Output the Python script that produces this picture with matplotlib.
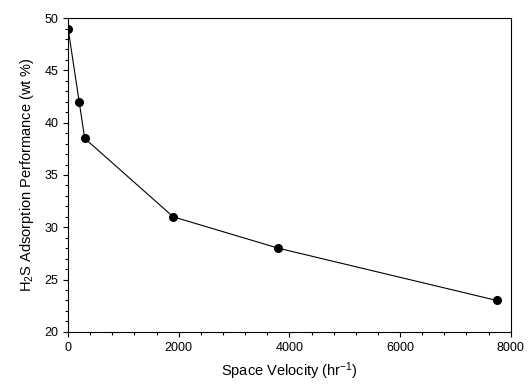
import matplotlib
matplotlib.use("Agg")
import matplotlib.pyplot as plt
from matplotlib.ticker import MultipleLocator

plt.rcParams['font.family'] = ['Liberation Sans', 'DejaVu Sans']
plt.rcParams['mathtext.default'] = 'regular'

space_velocity = [0, 200, 300, 1900, 3800, 7750]
h2s_performance = [49, 42, 38.5, 31, 28, 23]

fig = plt.figure(figsize=(5.32, 3.85), dpi=100)
ax = fig.add_axes([0.128, 0.138, 0.832, 0.815])
ax.plot(space_velocity, h2s_performance, color='black', lw=0.8,
        marker='o', markersize=5.5, markerfacecolor='black', markeredgecolor='black')
ax.set_xlim(0, 8000)
ax.set_ylim(20, 50)
ax.xaxis.set_major_locator(MultipleLocator(2000))
ax.xaxis.set_minor_locator(MultipleLocator(400))
ax.yaxis.set_major_locator(MultipleLocator(5))
ax.yaxis.set_minor_locator(MultipleLocator(1))
ax.tick_params(which='both', direction='out', top=False, right=False, labelsize=9, width=0.8)
ax.tick_params(which='major', length=3.5)
ax.tick_params(which='minor', length=2)
for s in ax.spines.values():
    s.set_linewidth(0.8)
ax.set_xlabel('Space Velocity (hr$^{-1}$)', fontsize=10.5, labelpad=5)
ax.set_ylabel('H$_2$S Adsorption Performance (wt %)', fontsize=10.5, labelpad=6)
fig.savefig('out.png', dpi=100)
